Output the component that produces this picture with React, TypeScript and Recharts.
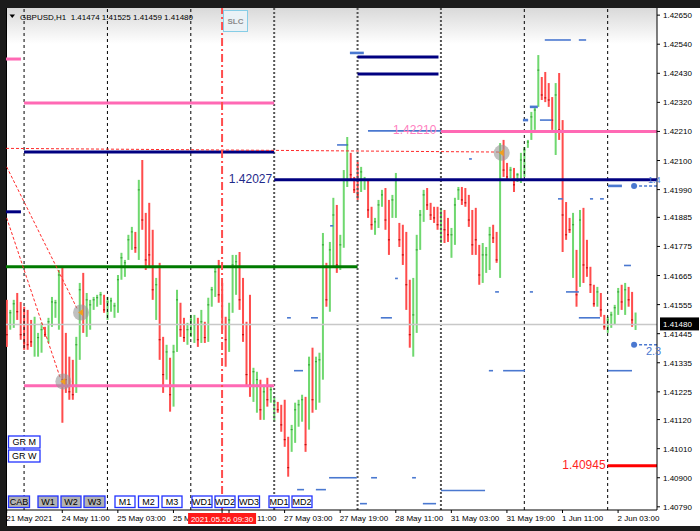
import React from 'react';
import { ComposedChart, Bar, XAxis, YAxis, ReferenceLine, ReferenceDot } from 'recharts';

type OHLC = [number, number, number, number];

// Hourly GBPUSD bars [open, high, low, close], grouped by trading day
const may21: OHLC[] = [
  [1.41554, 1.41573, 1.41395, 1.41441],
  [1.41471, 1.41535, 1.4146, 1.41524],
  [1.4149, 1.41573, 1.41467, 1.41558],
  [1.41573, 1.41599, 1.41497, 1.41528],
  [1.41528, 1.41565, 1.41422, 1.41441],
];
const may24: OHLC[] = [
  [1.41516, 1.41547, 1.41384, 1.4141],
  [1.41505, 1.41535, 1.41384, 1.41403],
  [1.41479, 1.41497, 1.41395, 1.41414],
  [1.41384, 1.41509, 1.41358, 1.41479],
  [1.41376, 1.41448, 1.41358, 1.4143],
  [1.41403, 1.41486, 1.41373, 1.4146],
  [1.41463, 1.41471, 1.41433, 1.41441],
  [1.4143, 1.41505, 1.4141, 1.4149],
  [1.4149, 1.41584, 1.41471, 1.41565],
  [1.41528, 1.41573, 1.41505, 1.41562],
  [1.41535, 1.41686, 1.4146, 1.41667],
  [1.41667, 1.41694, 1.41108, 1.41271],
  [1.41403, 1.41448, 1.41221, 1.41271],
  [1.41339, 1.41358, 1.41195, 1.41225],
  [1.41308, 1.41346, 1.41195, 1.41214],
  [1.4124, 1.41433, 1.41221, 1.41403],
  [1.41384, 1.41637, 1.41346, 1.41611],
  [1.41611, 1.41675, 1.41448, 1.41479],
  [1.4146, 1.41599, 1.41433, 1.41573],
  [1.41497, 1.41573, 1.4146, 1.41554],
  [1.41547, 1.41584, 1.41535, 1.41573],
  [1.41562, 1.41592, 1.41547, 1.41581],
  [1.41569, 1.41603, 1.41554, 1.41592],
  [1.41581, 1.41592, 1.41524, 1.41535],
];
const may25: OHLC[] = [
  [1.41516, 1.41584, 1.41497, 1.41565],
  [1.41539, 1.41581, 1.41528, 1.41569],
  [1.41516, 1.41562, 1.41505, 1.4155],
  [1.41543, 1.41667, 1.41524, 1.41649],
  [1.41667, 1.41751, 1.41649, 1.41732],
  [1.41679, 1.41724, 1.4166, 1.41713],
  [1.41743, 1.41819, 1.41724, 1.418],
  [1.41781, 1.41849, 1.41762, 1.4183],
  [1.41815, 1.4183, 1.41751, 1.4177],
  [1.41762, 1.42027, 1.41724, 1.41989],
  [1.41989, 1.42102, 1.41838, 1.41875],
  [1.41875, 1.41902, 1.41686, 1.41724],
  [1.41894, 1.4194, 1.41698, 1.41743],
  [1.418, 1.41838, 1.41573, 1.41611],
  [1.41535, 1.41656, 1.41497, 1.4163],
  [1.4163, 1.41713, 1.41346, 1.41422],
  [1.41403, 1.41433, 1.41221, 1.4129],
  [1.4129, 1.41403, 1.41271, 1.41376],
  [1.41339, 1.41354, 1.4115, 1.41214],
  [1.41214, 1.41403, 1.41169, 1.41376],
  [1.41422, 1.41611, 1.41376, 1.41573],
  [1.41543, 1.41562, 1.41433, 1.4146],
  [1.4149, 1.41505, 1.41414, 1.4143],
  [1.41422, 1.41486, 1.41403, 1.4146],
];
const may26: OHLC[] = [
  [1.41452, 1.41516, 1.41433, 1.41497],
  [1.41441, 1.41516, 1.4141, 1.41479],
  [1.41479, 1.41505, 1.41395, 1.41422],
  [1.4143, 1.41535, 1.4141, 1.4149],
  [1.41479, 1.4149, 1.4141, 1.4143],
  [1.4143, 1.41581, 1.41414, 1.41554],
  [1.41562, 1.41622, 1.41547, 1.41611],
  [1.41603, 1.41698, 1.41584, 1.41679],
  [1.41679, 1.41724, 1.41562, 1.41592],
  [1.41592, 1.41637, 1.4146, 1.41479],
  [1.41479, 1.41509, 1.4132, 1.41422],
  [1.41422, 1.41562, 1.41376, 1.41497],
  [1.41554, 1.41743, 1.41524, 1.41705],
  [1.41649, 1.41743, 1.41592, 1.41717],
  [1.41717, 1.41754, 1.41535, 1.41573],
  [1.41573, 1.41656, 1.41414, 1.41441],
  [1.41441, 1.4149, 1.41244, 1.4129],
  [1.41497, 1.41592, 1.41206, 1.41252],
  [1.41214, 1.41316, 1.41187, 1.41301],
  [1.41176, 1.41301, 1.41146, 1.41271],
  [1.41252, 1.41271, 1.41119, 1.41157],
  [1.4115, 1.41252, 1.41119, 1.41225],
  [1.41252, 1.41278, 1.41169, 1.41195],
  [1.41195, 1.41252, 1.41184, 1.41233],
];
const may27: OHLC[] = [
  [1.41127, 1.41206, 1.41112, 1.41187],
  [1.4118, 1.41187, 1.41146, 1.41157],
  [1.41157, 1.41176, 1.41074, 1.411],
  [1.41119, 1.41195, 1.41017, 1.41044],
  [1.41044, 1.41055, 1.40904, 1.40938],
  [1.41014, 1.411, 1.40998, 1.41082],
  [1.41063, 1.41184, 1.41032, 1.41157],
  [1.41119, 1.41195, 1.41093, 1.41176],
  [1.41138, 1.41214, 1.41112, 1.41195],
  [1.41187, 1.41206, 1.40998, 1.41025],
  [1.41119, 1.41358, 1.41082, 1.41327],
  [1.41346, 1.41392, 1.41146, 1.41195],
  [1.41195, 1.41358, 1.41157, 1.41339],
  [1.41214, 1.41373, 1.41184, 1.41346],
  [1.41308, 1.41826, 1.41271, 1.41781],
  [1.41694, 1.41713, 1.41547, 1.41573],
  [1.41573, 1.41792, 1.41528, 1.41762],
  [1.41743, 1.41959, 1.41698, 1.41894],
  [1.41894, 1.41932, 1.41675, 1.41705],
  [1.41717, 1.41819, 1.41686, 1.41781],
  [1.418, 1.42064, 1.4177, 1.42027],
  [1.42027, 1.42189, 1.42, 1.42159],
  [1.42114, 1.42129, 1.42027, 1.42046],
  [1.4203, 1.42038, 1.41977, 1.41989],
];
const may28: OHLC[] = [
  [1.42064, 1.42095, 1.41951, 1.4197],
  [1.41996, 1.42076, 1.41981, 1.42057],
  [1.41996, 1.42038, 1.41989, 1.42027],
  [1.42015, 1.42027, 1.41883, 1.41913],
  [1.41913, 1.41925, 1.41838, 1.41857],
  [1.41838, 1.41883, 1.41819, 1.41868],
  [1.41857, 1.41951, 1.41845, 1.41932],
  [1.4194, 1.41989, 1.41925, 1.4197],
  [1.4197, 1.41996, 1.41838, 1.41875],
  [1.41894, 1.41951, 1.41743, 1.418],
  [1.41894, 1.4197, 1.41883, 1.41951],
  [1.41913, 1.42053, 1.41883, 1.42027],
  [1.41853, 1.41864, 1.41773, 1.418],
  [1.41838, 1.41857, 1.41705, 1.41743],
  [1.41762, 1.4183, 1.41535, 1.4163],
  [1.41611, 1.41649, 1.41392, 1.41441],
  [1.41403, 1.41656, 1.41358, 1.41516],
  [1.41516, 1.41819, 1.41448, 1.41762],
  [1.41781, 1.41913, 1.41762, 1.41894],
  [1.41894, 1.41989, 1.41868, 1.4197],
  [1.41981, 1.41996, 1.41913, 1.41932],
  [1.41928, 1.4194, 1.41875, 1.41894],
  [1.41913, 1.41925, 1.41864, 1.41883],
  [1.41906, 1.41925, 1.41838, 1.41857],
];
const may31: OHLC[] = [
  [1.41819, 1.41921, 1.41788, 1.41894],
  [1.41894, 1.41913, 1.41788, 1.41838],
  [1.41868, 1.41883, 1.41792, 1.41819],
  [1.41762, 1.41845, 1.41732, 1.41819],
  [1.41807, 1.41959, 1.41781, 1.41932],
  [1.41962, 1.42, 1.41951, 1.41989],
  [1.41989, 1.42, 1.41932, 1.41951],
  [1.41981, 1.41996, 1.41925, 1.4194],
  [1.41951, 1.4197, 1.41849, 1.41875],
  [1.41894, 1.41913, 1.41743, 1.41781],
  [1.41857, 1.41921, 1.41743, 1.418],
  [1.41762, 1.41781, 1.4163, 1.41667],
  [1.41667, 1.41788, 1.41637, 1.41743],
  [1.41705, 1.41773, 1.41675, 1.41743],
  [1.41724, 1.41849, 1.41686, 1.41819],
  [1.41845, 1.41857, 1.41788, 1.41807],
  [1.41807, 1.4183, 1.41713, 1.41724],
  [1.41724, 1.42166, 1.41656, 1.42129],
  [1.42148, 1.42178, 1.42038, 1.42064],
  [1.42083, 1.42091, 1.42027, 1.42038],
  [1.42042, 1.42076, 1.42034, 1.42064],
  [1.42064, 1.42072, 1.41981, 1.42008],
  [1.42027, 1.42053, 1.42019, 1.42046],
  [1.42027, 1.42129, 1.42015, 1.42102],
];
const jun1: OHLC[] = [
  [1.42064, 1.42151, 1.42038, 1.4214],
  [1.42155, 1.42178, 1.42148, 1.4217],
  [1.42185, 1.42284, 1.42178, 1.42265],
  [1.42234, 1.42303, 1.42216, 1.42291],
  [1.4231, 1.42499, 1.42303, 1.42442],
  [1.42405, 1.42416, 1.42329, 1.42348],
  [1.42405, 1.42435, 1.42321, 1.42337],
  [1.42374, 1.42393, 1.42303, 1.42329],
  [1.42329, 1.4234, 1.42216, 1.42253],
  [1.42159, 1.42393, 1.42121, 1.42348],
  [1.42367, 1.42431, 1.42178, 1.42216],
  [1.42234, 1.42253, 1.41754, 1.41894],
  [1.41932, 1.41943, 1.418, 1.41819],
  [1.41875, 1.41883, 1.41826, 1.41838],
  [1.418, 1.41902, 1.41656, 1.41857],
  [1.41743, 1.41762, 1.41547, 1.41592],
  [1.41649, 1.41913, 1.41622, 1.41875],
  [1.41894, 1.41921, 1.41637, 1.41705],
  [1.41781, 1.418, 1.4166, 1.41694],
  [1.41686, 1.41698, 1.41599, 1.4163],
  [1.41618, 1.4163, 1.41547, 1.41558],
  [1.41562, 1.41622, 1.41547, 1.41603],
  [1.41588, 1.41599, 1.41509, 1.41535],
  [1.41509, 1.41516, 1.4146, 1.41471],
];
const jun2: OHLC[] = [
  [1.41467, 1.41509, 1.41448, 1.41497],
  [1.41479, 1.41528, 1.41467, 1.41516],
  [1.41497, 1.41554, 1.41479, 1.41543],
  [1.41535, 1.41618, 1.41516, 1.41603],
  [1.41611, 1.4163, 1.41535, 1.41565],
  [1.41554, 1.41637, 1.41516, 1.41611],
  [1.41611, 1.41622, 1.41547, 1.41573],
  [1.41588, 1.41603, 1.41471, 1.41497],
  [1.41474, 1.41525, 1.41459, 1.4148],
];

const sessions = [may21, may24, may25, may26, may27, may28, may31, jun1, jun2];

const timeTickIdx = [0, 16, 32, 48, 64, 80, 96, 112, 128, 144, 160, 176];
const timeLabels = [
  '21 May 2021', '24 May 11:00', '25 May 03:00', '25 May 19:00', '26 May 11:00', '27 May 03:00',
  '27 May 19:00', '28 May 11:00', '31 May 03:00', '31 May 19:00', '1 Jun 11:00', '2 Jun 03:00',
];
// parts of the two time labels that stay visible beside the cross-hair time box
const partlyCovered: Record<number, { text: string; skip: string }> = {
  48: { text: '25 M', skip: '' },
  64: { text: '11:00', skip: '26 May ' },
};
const priceTicks = [
  1.4265, 1.4254, 1.4243, 1.4232, 1.4221, 1.421, 1.4199, 1.41885, 1.41775,
  1.41665, 1.41555, 1.41445, 1.41335, 1.41225, 1.4112, 1.4101, 1.409, 1.4079,
];
const symbolTitle = 'GBPUSD,H1  1.41474 1.41525 1.41459 1.41480';
const lastPrice = 1.4148;
const crossIdx = 62;
const crossLabel = '2021.05.26 09:30';
const daySeparators = [5, 29, 53, 149, 173];
const heavySeparators = [77, 101, 125];

type Level = { from: number; to: number; price: number };
const pinkLevels: Level[] = [
  { from: -0.2, to: 4.1, price: 1.42484 },
  { from: 5, to: 77, price: 1.42318 },
  { from: 125, to: 187.2, price: 1.4221 },
  { from: 5, to: 77, price: 1.41248 },
];
const navyLevels: Level[] = [
  { from: -0.2, to: 4.1, price: 1.41906 },
  { from: 5, to: 77, price: 1.42132 },
  { from: 77, to: 187.2, price: 1.42027 },
  { from: 101, to: 124.3, price: 1.42492 },
  { from: 101, to: 124.3, price: 1.42427 },
];
const greenLevels: Level[] = [{ from: -0.2, to: 101, price: 1.41698 }];
const redLevels: Level[] = [{ from: 173, to: 187.2, price: 1.40945 }];

type Trend = { x1: number; p1: number; x2: number; p2: number };
const redTrends: Trend[] = [
  { x1: -0.2, p1: 1.42146, x2: 142.5, p2: 1.42132 },
  { x1: 0, p1: 1.41883, x2: 15.4, p2: 1.41278 },
  { x1: 0, p1: 1.42076, x2: 20.3, p2: 1.41539 },
];
const signalMarks = [
  { i: 16.3, price: 1.41264 },
  { i: 21.4, price: 1.41525 },
  { i: 142.5, price: 1.42129 },
];

const blueMarksBold: Level[] = [
  { from: 98.8, to: 102.8, price: 1.42507 },
  { from: 150.6, to: 152.9, price: 1.42303 },
  { from: 148.6, to: 150.1, price: 1.42253 },
  { from: 173.1, to: 177.1, price: 1.42004 },
];
const blueMarks: Level[] = [
  { from: 154.9, to: 162.4, price: 1.42556 },
  { from: 164.7, to: 166.8, price: 1.42556 },
  { from: 153.5, to: 156.9, price: 1.42253 },
  { from: 104.0, to: 131.9, price: 1.42212 },
  { from: 134.8, to: 148.3, price: 1.42212 },
  { from: 133.1, to: 133.9, price: 1.42106 },
  { from: 95.1, to: 98.0, price: 1.42159 },
  { from: 158.7, to: 160.1, price: 1.41955 },
  { from: 167.9, to: 168.8, price: 1.41955 },
  { from: 170.8, to: 171.9, price: 1.41955 },
  { from: 93.1, to: 94.0, price: 1.41853 },
  { from: 177.7, to: 179.7, price: 1.41703 },
  { from: 111.8, to: 112.6, price: 1.41654 },
  { from: 140.6, to: 141.7, price: 1.41603 },
  { from: 150.6, to: 151.5, price: 1.41603 },
  { from: 161.0, to: 164.7, price: 1.41603 },
  { from: 80.7, to: 81.8, price: 1.41505 },
  { from: 87.6, to: 89.6, price: 1.41505 },
  { from: 107.7, to: 110.9, price: 1.41505 },
  { from: 164.7, to: 170.8, price: 1.41505 },
  { from: 82.7, to: 85.3, price: 1.41305 },
  { from: 138.8, to: 140.0, price: 1.41305 },
  { from: 142.9, to: 149.2, price: 1.41305 },
  { from: 173.1, to: 180.0, price: 1.41305 },
  { from: 92.8, to: 100.8, price: 1.409 },
  { from: 104.9, to: 106.6, price: 1.409 },
  { from: 116.7, to: 117.8, price: 1.409 },
  { from: 83.6, to: 85.6, price: 1.40855 },
  { from: 89.0, to: 91.9, price: 1.40855 },
  { from: 125.0, to: 137.7, price: 1.40852 },
  { from: 101.7, to: 103.7, price: 1.40802 },
  { from: 119.8, to: 123.6, price: 1.40802 },
];
const bluePointers = [
  { from: 180.6, price: 1.42004, text: '1.4', textAt: 184.6, above: true },
  { from: 180.6, price: 1.41403, text: '2.3', textAt: 184.0, above: false },
];
const levelTexts = [
  { i: 77, price: 1.42027, text: '1.42027', color: '#1f2a8a' },
  { i: 124.3, price: 1.4221, text: '1.42210', color: '#ff7fbf' },
  { i: 173, price: 1.40945, text: '1.40945', color: '#ff1f1f' },
];
const groupButtons = ['GR M', 'GR W'];
const bottomButtons = ['CAB', 'W1', 'W2', 'W3', 'M1', 'M2', 'M3', 'WD1', 'WD2', 'WD3', 'MD1', 'MD2'];

const bars = sessions.flat().map(([o, h, l, c], i) => ({ i, o, h, l, c, range: [l, h] }));
// the cross-hair time box is drawn as the last axis tick so it sits above the time labels
const axisTicks = [...timeTickIdx, crossIdx];

const FONT = '"Liberation Sans", Arial, sans-serif';
const PINK = '#ff69b4';
const NAVY = '#000080';
const BLUE = '#4a78d0';

// width of a string in 8px Liberation Sans (Arial metrics), used to keep a covered label's tail in place
const ARIAL_W: Record<string, number> = { ' ': 0.278, M: 0.833, a: 0.556, y: 0.5, ':': 0.278 };
const textWidth8 = (s: string) => s.split('').reduce((w, ch) => w + (ARIAL_W[ch] ?? 0.556) * 8, 0);

const Candle = (props: any) => {
  const { x, y, width, height, payload } = props;
  if (x == null || y == null || !payload) return null;
  const cx = x + width / 2;
  const { o, h, l, c } = payload;
  const span = h - l;
  const toY = (p: number) => (span > 0 ? y + ((h - p) / span) * height : y);
  const up = c >= o;
  const body = up ? '#6fd86f' : '#ff4c4c';
  const tick = up ? '#2f9a2f' : '#b40000';
  return (
    <g>
      <rect x={cx - 1} y={y} width={2} height={Math.max(height, 1)} fill={body} />
      <rect x={cx - 1} y={toY(c) - 0.5} width={2} height={1} fill={tick} />
    </g>
  );
};

const TimeTick = (props: any) => {
  const { x, y, payload } = props;
  if (payload.value === crossIdx) {
    const top = y - 2;
    return (
      <g>
        <rect x={x - 34} y={top} width={68} height={11} fill="#ff1a1a" />
        <text x={x} y={top + 8.5} textAnchor="middle" fill="#fff" fontSize={8} fontFamily={FONT}>
          {crossLabel}
        </text>
      </g>
    );
  }
  const k = timeTickIdx.indexOf(payload.value);
  const part = partlyCovered[payload.value];
  const label = part ? part.text : timeLabels[k];
  const dx = part ? textWidth8(part.skip) : 0;
  return (
    <text x={x - 0.5 + dx} y={y + 6} fontSize={8} fontFamily={FONT} fill="#000" textAnchor="start">
      {label}
    </text>
  );
};

const PriceTick = (props: any) => {
  const { x, y, payload } = props;
  return (
    <text x={x + 1} y={y + 3} fontSize={8} fontFamily={FONT} fill="#000" textAnchor="start">
      {Number(payload.value).toFixed(5)}
    </text>
  );
};

const PriceBox = (props: any) => {
  const vb = props.viewBox;
  if (!vb) return null;
  const x = vb.x + vb.width + 3;
  const y = vb.y;
  return (
    <g>
      <rect x={x} y={y - 7} width={39} height={13} fill="#000" />
      <text x={x + 3} y={y + 3} fill="#fff" fontSize={8} fontFamily={FONT}>
        {lastPrice.toFixed(5)}
      </text>
    </g>
  );
};

const segLine = (lv: Level, key: string, stroke: string, width: number, dash?: string) => (
  <ReferenceLine
    key={key}
    segment={[{ x: lv.from, y: lv.price }, { x: lv.to, y: lv.price }]}
    stroke={stroke}
    strokeWidth={width}
    strokeDasharray={dash}
    ifOverflow="visible"
  />
);

const Btn = ({ x, y, w, h, label, filled }: any) => (
  <g>
    <rect x={x} y={y} width={w} height={h} fill={filled ? '#b2b2b2' : '#ffffff'} stroke="#2233ff" strokeWidth={1.3} />
    <text x={x + w / 2} y={y + h - 2.6} textAnchor="middle" fontSize={9} fontFamily={FONT} fill="#000">
      {label}
    </text>
  </g>
);

export default function App() {
  const btnX = [8.5, 38, 61, 84, 115, 138.5, 162, 192, 215, 238.5, 269, 292];
  const btnW = [21, 20, 20, 21, 20, 20, 20, 20, 20, 21, 20, 20];
  return (
    <div style={{ position: 'absolute', left: 0, top: 0, width: 700, height: 531, background: '#1b1b1b', overflow: 'hidden' }}>
      <div style={{ position: 'absolute', left: 6, top: 8, width: 694, height: 518, background: '#fff', borderLeft: '1px solid #000', boxSizing: 'border-box' }} />
      <div style={{ position: 'absolute', left: 7, top: 8, width: 650, height: 36, background: 'linear-gradient(#d9d9d9, #ffffff)' }} />
      <div style={{ position: 'absolute', left: 0, top: 0 }}>
        <ComposedChart width={700} height={531} data={bars} margin={{ top: 8, right: 0, bottom: 0, left: 6 }}>
          <XAxis
            dataKey="i"
            type="number"
            domain={[-0.2, 187.2]}
            allowDataOverflow
            ticks={axisTicks}
            interval={0}
            height={21}
            tickSize={3}
            tick={<TimeTick />}
            axisLine={{ stroke: '#000' }}
            tickLine={{ stroke: '#000' }}
          />
          <YAxis
            orientation="right"
            type="number"
            domain={[1.40778, 1.42677]}
            allowDataOverflow
            ticks={priceTicks}
            interval={0}
            width={43}
            tickSize={3}
            tick={<PriceTick />}
            axisLine={{ stroke: '#000' }}
            tickLine={{ stroke: '#000' }}
          />
          {daySeparators.map((d) => (
            <ReferenceLine key={'sep' + d} x={d} stroke="#000" strokeWidth={1} strokeDasharray="3 3" ifOverflow="visible" />
          ))}
          {heavySeparators.map((d) => (
            <ReferenceLine key={'hsep' + d} x={d} stroke="#555" strokeWidth={2} strokeDasharray="2 2" ifOverflow="visible" />
          ))}
          <ReferenceLine y={lastPrice} stroke="#c8c8c8" strokeWidth={1.5} label={<PriceBox />} ifOverflow="visible" />
          <Bar dataKey="range" shape={<Candle />} isAnimationActive={false} />
          {blueMarks.map((b, k) => segLine(b, 'bm' + k, BLUE, 1.6))}
          {blueMarksBold.map((b, k) => segLine(b, 'bb' + k, BLUE, 2.6))}
          {bluePointers.map((b, k) => segLine({ from: b.from, to: 187.2, price: b.price }, 'bp' + k, BLUE, 1.5, '3 2'))}
          {pinkLevels.map((lv, k) => segLine(lv, 'pk' + k, PINK, 3))}
          {navyLevels.map((lv, k) => segLine(lv, 'nv' + k, NAVY, 3))}
          {greenLevels.map((lv, k) => segLine(lv, 'gr' + k, '#007a00', 3))}
          {redLevels.map((lv, k) => segLine(lv, 'rd' + k, '#ff0000', 3))}
          {redTrends.map((t, k) => (
            <ReferenceLine
              key={'tr' + k}
              segment={[{ x: t.x1, y: t.p1 }, { x: t.x2, y: t.p2 }]}
              stroke="#ff2a2a"
              strokeWidth={1}
              strokeDasharray="3 2"
              ifOverflow="visible"
            />
          ))}
          <ReferenceLine x={crossIdx} stroke="#ff4d4d" strokeWidth={2} strokeDasharray="8 3 2 3" ifOverflow="visible" />
          {signalMarks.map((m, k) => (
            <ReferenceDot
              key={'sg' + k}
              x={m.i}
              y={m.price}
              r={8}
              ifOverflow="visible"
              shape={(p: any) => (
                <g>
                  <circle cx={p.cx} cy={p.cy} r={8} fill="rgba(150,150,150,0.6)" />
                  <polygon points={`${p.cx - 3},${p.cy} ${p.cx + 2},${p.cy - 3.5} ${p.cx + 2},${p.cy + 3.5}`} fill="#f0a020" />
                </g>
              )}
            />
          ))}
          {bluePointers.map((b, k) => (
            <ReferenceDot key={'bd' + k} x={b.from} y={b.price} r={3} fill={BLUE} stroke="none" ifOverflow="visible" />
          ))}
          {bluePointers.map((b, k) => (
            <ReferenceDot
              key={'bt' + k}
              x={b.textAt}
              y={b.price}
              r={1}
              ifOverflow="visible"
              shape={(p: any) => (
                <text x={p.cx} y={b.above ? p.cy - 3 : p.cy + 10.5} fontSize={b.above ? 9 : 11} fontFamily={FONT} fill={BLUE}>
                  {b.text}
                </text>
              )}
            />
          ))}
          {levelTexts.map((t, k) => (
            <ReferenceDot
              key={'lt' + k}
              x={t.i}
              y={t.price}
              r={1}
              ifOverflow="visible"
              shape={(p: any) => (
                <text x={p.cx - 2} y={p.cy + 3} textAnchor="end" fontSize={12} fontFamily={FONT} fill={t.color}>
                  {t.text}
                </text>
              )}
            />
          ))}
        </ComposedChart>
      </div>
      <svg width={700} height={531} style={{ position: 'absolute', left: 0, top: 0, pointerEvents: 'none' }}>
        <polygon points="9.5,14.5 15,14.5 12.25,18" fill="#000" />
        <text x={20} y={19.5} fontSize={8} fontFamily={FONT} fill="#000" style={{ whiteSpace: 'pre' }} xmlSpace="preserve">
          {symbolTitle}
        </text>
        <rect x={223.5} y={10.5} width={24} height={21} fill="#eaf2f6" stroke="#86cde6" strokeWidth={1} />
        <text x={235.5} y={24} textAnchor="middle" fontSize={8} fontWeight="bold" fontFamily={FONT} fill="#8c8c8c">SLC</text>
        {groupButtons.map((b, k) => (
          <Btn key={b} x={8.5} y={436 + k * 14} w={31.5} h={12} label={b} filled={false} />
        ))}
        {bottomButtons.map((b, k) => (
          <Btn key={b} x={btnX[k]} y={496} w={btnW[k]} h={11.5} label={b} filled={k < 4} />
        ))}
      </svg>
    </div>
  );
}
